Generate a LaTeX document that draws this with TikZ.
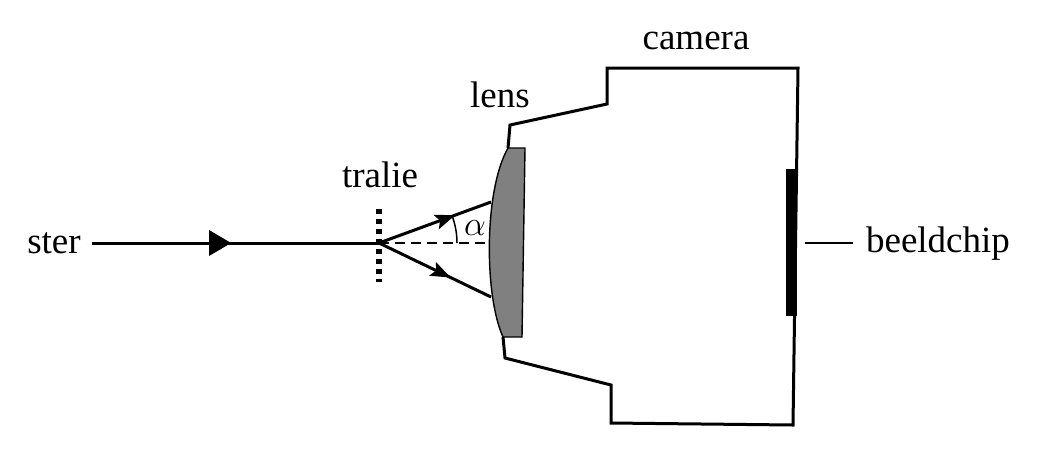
\documentclass[tikz,border=0pt]{standalone}
\usepackage{fontspec}
\setmainfont{Liberation Serif}
\usetikzlibrary{arrows.meta,decorations.markings}
\begin{document}
\begin{tikzpicture}[x=0.5pt,y=-0.5pt,
  lbl/.style={anchor=base,inner sep=0pt,font=\fontsize{18.5}{22}\selectfont},
  thick line/.style={line width=1.5pt,line join=miter},
  thin line/.style={line width=0.75pt},
  midarrow/.style={postaction={decorate},decoration={markings,
    mark=at position #1 with {\arrow{Stealth[length=10pt,width=7.5pt,inset=2pt]}}}},
  bigarrow/.style={postaction={decorate},decoration={markings,
    mark=at position #1 with {\arrow{Triangle[length=11pt,width=12.5pt]}}}}]
\useasboundingbox (0,0) rectangle (1037,451);
% labels
\node[lbl] (ster) at (54,253) {ster};
\node[lbl] (tralie) at (380,187) {tralie};
\node[lbl] (lens) at (500,107) {lens};
\node[lbl] (camera) at (696,49) {camera};
\node[lbl] (beeld) at (938,252) {beeldchip};
% coordinates
\coordinate (s0) at (92,243);
\coordinate (g) at (379,243);
\coordinate (up) at (491,202);
\coordinate (dn) at (491,297);
\coordinate (dend) at (489,243);
% camera body
\draw[thick line] (503,337) -- (505,358) -- (611,385) -- (611,423) -- (793,425)
  -- (798,68) -- (607,68) -- (607,104) -- (510,125) -- (508,148);
% lens
\draw[fill=black!50,line width=0.7pt] (508,148) .. controls (484,190) and (484,295) .. (503,337)
  -- (522,337) -- (525,148) -- cycle;
% chip
\fill (786,169) rectangle (797,316);
\coordinate (c1) at (805,243);
\coordinate (c2) at (853,243);
\draw[thin line] (c1) -- (c2);
% incoming ray
\draw[thick line,bigarrow=0.485] (s0) -- (g);
% diffracted rays
\draw[thick line,midarrow=0.68] (g) -- (up);
\draw[thick line,midarrow=0.64] (g) -- (dn);
\draw[thin line,dash pattern=on 5pt off 3pt] (g) -- (dend);
% angle
\draw[thin line] ([shift={(0:78)}]g) arc[start angle=0,end angle=20.7,radius=39pt];
\node[inner sep=0pt,font=\fontsize{17}{20}\selectfont] (alpha) at (475,228) {$\alpha$};
% grating
\coordinate (gt) at (379,209);
\coordinate (gb) at (379,282);
\draw[line width=3pt,dash pattern=on 2.6pt off 2.4pt] (gt) -- (gb);
\end{tikzpicture}
\end{document}
